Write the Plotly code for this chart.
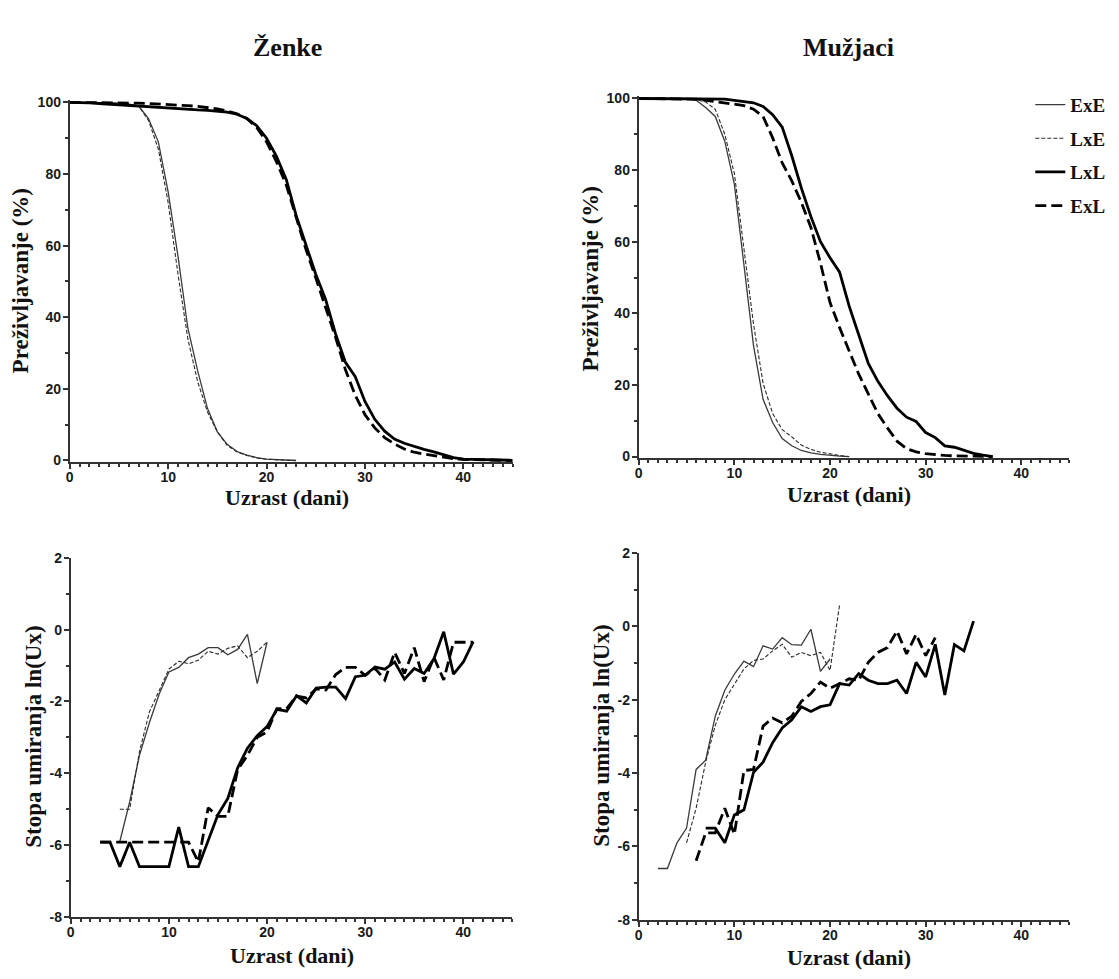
import plotly.graph_objects as go

# ---------------- DATA ----------------
groups = ["ExE", "LxE", "LxL", "ExL"]

# Survival (%) - females
f_surv_days_thin = list(range(0, 24))
f_surv_ExE = [100, 100, 100, 100, 100, 99.8, 99.5, 99, 95.5, 89, 75, 57, 37, 25, 14.5, 8, 4.5, 2.5, 1.5, 0.8, 0.4, 0.2, 0.1, 0]
f_surv_LxE = [100, 100, 100, 100, 100, 99.8, 99.5, 99, 95, 87, 72, 52, 34, 22, 13.5, 8, 4.2, 2.4, 1.4, 0.7, 0.35, 0.15, 0.05, 0]
f_surv_days_thick = list(range(0, 46))
f_surv_LxL = [100, 100, 99.9, 99.7, 99.5, 99.3, 99.1, 99, 98.8, 98.6, 98.4, 98.2, 98, 97.9, 97.8, 97.6,
              97.3, 96.7, 95.5, 93.5, 90, 85, 78.5, 68.5, 60, 52, 45, 35.5, 27.5, 23.5, 16.5, 11.5,
              8.2, 6, 4.8, 3.9, 3.1, 2.4, 1.6, 0.8, 0.4, 0.3, 0.2, 0.1, 0.1, 0.05]
f_surv_ExL = [100, 100, 100, 100, 99.9, 99.9, 99.8, 99.8, 99.7, 99.6, 99.5, 99.3, 99.1, 98.9, 98.6, 98.2,
              97.6, 96.8, 95.5, 93, 89, 83.5, 77, 68, 59, 51, 43, 34.5, 25.5, 18.3, 12.8, 9.1,
              6.4, 4.6, 3.2, 2.3, 1.8, 1.3, 1.0, 0.5, 0.3, 0.2, 0.1, 0.1, 0.05, 0]

# Survival (%) - males
m_surv_days_thin = list(range(0, 23))
m_surv_ExE = [100, 100, 100, 100, 100, 100, 99.5, 97.5, 95, 88, 76, 53, 31, 16, 9.5, 5, 3, 1.7, 1.0, 0.6, 0.3, 0.1, 0]
m_surv_LxE = [100, 100, 100, 100, 100, 100, 99.7, 99, 97, 90, 79, 58, 37, 20.5, 12, 7.5, 5.5, 3.2, 2, 1.2, 0.7, 0.3, 0]
m_surv_days_thick = list(range(0, 38))
m_surv_LxL = [100, 100, 100, 100, 100, 100, 100, 100, 100, 99.8, 99.5, 99.2, 98.8, 97.8, 95.5, 92,
              84, 75, 67, 60, 55.5, 51.5, 42, 34, 26, 21, 17, 13.5, 11, 9.8, 6.7, 5.3, 3, 2.6, 1.8, 0.9, 0.4, 0]
m_surv_ExL = [100, 100, 100, 100, 100, 100, 99.8, 99.5, 99.2, 98.8, 98.4, 98, 97, 95, 89, 82,
              77, 71, 64, 54, 43, 36, 29.5, 23, 17.5, 12, 8, 4.3, 2.2, 1.3, 0.8, 0.5, 0.3, 0.2, 0.1, 0.05, 0, 0]

# Mortality rate ln(Ux) - females
f_mort_ExE_days = list(range(5, 21))
f_mort_ExE = [-5.9, -4.8, -3.5, -2.6, -1.8, -1.18, -1.05, -0.78, -0.68, -0.5, -0.5, -0.7, -0.55, -0.13, -1.5, -0.35]
f_mort_LxE_days = list(range(5, 21))
f_mort_LxE = [-5.0, -5.0, -3.4, -2.3, -1.7, -1.1, -0.88, -0.95, -0.85, -0.6, -0.68, -0.52, -0.45, -0.78, -0.6, -0.35]
f_mort_LxL_days = list(range(3, 42))
f_mort_LxL = [-5.92, -5.92, -6.6, -5.92, -6.6, -6.6, -6.6, -6.6, -5.5, -6.6, -6.6, -5.85, -5.15, -4.7,
              -3.85, -3.3, -2.95, -2.7, -2.22, -2.27, -1.84, -2.04, -1.63, -1.6, -1.6, -1.92, -1.31,
              -1.27, -1.04, -1.1, -0.9, -1.38, -1.08, -1.22, -0.81, -0.06, -1.24, -0.9, -0.33]
f_mort_ExL_days = list(range(3, 42))
f_mort_ExL = [-5.92, -5.92, -5.92, -5.92, -5.92, -5.92, -5.92, -5.92, -5.92, -5.92, -6.47, -4.96, -5.2,
              -5.2, -3.9, -3.5, -3.0, -2.85, -2.2, -2.2, -1.85, -1.9, -1.65, -1.68, -1.25, -1.05, -1.05,
              -1.27, -1.08, -1.4, -0.63, -1.22, -0.5, -1.45, -0.77, -1.4, -0.35, -0.35, -0.35]

# Mortality rate ln(Ux) - males
m_mort_ExE_days = list(range(2, 21))
m_mort_ExE = [-6.6, -6.6, -5.9, -5.5, -3.9, -3.65, -2.45, -1.74, -1.3, -0.95, -1.1, -0.53, -0.62, -0.31,
              -0.5, -0.51, -0.08, -1.23, -0.89]
m_mort_LxE_days = list(range(5, 22))
m_mort_LxE = [-5.9, -4.96, -3.7, -2.7, -2.0, -1.56, -1.16, -0.93, -0.89, -0.67, -0.49, -0.84, -0.71,
              -0.8, -0.71, -1.2, 0.59]
m_mort_LxL_days = list(range(7, 36))
m_mort_LxL = [-5.5, -5.5, -5.9, -5.14, -5.0, -3.98, -3.7, -3.17, -2.77, -2.55, -2.19, -2.32, -2.19,
              -2.14, -1.56, -1.6, -1.29, -1.47, -1.56, -1.56, -1.47, -1.83, -0.98, -1.38, -0.49, -1.87,
              -0.5, -0.67, 0.14]
m_mort_ExL_days = list(range(6, 32))
m_mort_ExL = [-6.39, -5.63, -5.63, -4.96, -5.67, -3.93, -3.9, -2.72, -2.5, -2.63, -2.45, -2.05, -1.83,
              -1.52, -1.69, -1.56, -1.43, -1.47, -0.98, -0.71, -0.58, -0.13, -0.75, -0.22, -0.8, -0.31]

panel_titles = ["Ženke", "Mužjaci"]
x_title = "Uzrast (dani)"
y_title_top = "Preživljavanje (%)"
y_title_bottom = "Stopa umiranja ln(Ux)"
x_ticks = [0, 10, 20, 30, 40]
y_ticks_top = [0, 20, 40, 60, 80, 100]
y_ticks_bot = [-8, -6, -4, -2, 0, 2]

# ---------------- STYLE ----------------
W, H = 1119, 979
styles = {
    "ExE": dict(color="#3a3a3a", width=1.3, dash="solid"),
    "LxE": dict(color="#2a2a2a", width=1.1, dash="4px,2px"),
    "LxL": dict(color="#000000", width=2.8, dash="solid"),
    "ExL": dict(color="#000000", width=2.8, dash="11px,5px"),
}
SERIF = "Liberation Serif"
SANS = "Liberation Sans"


def dom_x(px0, px1, v0, v1, r0, r1):
    s = (px1 - px0) / (v1 - v0)
    return [(px0 + (r0 - v0) * s) / W, (px0 + (r1 - v0) * s) / W]


def dom_y(py0, py1, v0, v1, r0, r1):
    s = (py0 - py1) / (v1 - v0)
    return [1 - (py0 - (r0 - v0) * s) / H, 1 - (py0 - (r1 - v0) * s) / H]


XR = [0, 45]
YR_TOP = [-0.4, 100.8]
YR_BOT = [-8, 2]

fig = go.Figure()

panels = [
    ("", {"ExE": (f_surv_days_thin, f_surv_ExE), "LxE": (f_surv_days_thin, f_surv_LxE),
          "LxL": (f_surv_days_thick, f_surv_LxL), "ExL": (f_surv_days_thick, f_surv_ExL)}, False),
    ("2", {"ExE": (m_surv_days_thin, m_surv_ExE), "LxE": (m_surv_days_thin, m_surv_LxE),
           "LxL": (m_surv_days_thick, m_surv_LxL), "ExL": (m_surv_days_thick, m_surv_ExL)}, True),
    ("3", {"ExE": (f_mort_ExE_days, f_mort_ExE), "LxE": (f_mort_LxE_days, f_mort_LxE),
           "LxL": (f_mort_LxL_days, f_mort_LxL), "ExL": (f_mort_ExL_days, f_mort_ExL)}, False),
    ("4", {"ExE": (m_mort_ExE_days, m_mort_ExE), "LxE": (m_mort_LxE_days, m_mort_LxE),
           "LxL": (m_mort_LxL_days, m_mort_LxL), "ExL": (m_mort_ExL_days, m_mort_ExL)}, False),
]

for suf, series, showleg in panels:
    for g in groups:
        xs, ys = series[g]
        st = styles[g]
        fig.add_trace(go.Scatter(
            x=xs, y=ys, mode="lines", name=g, showlegend=showleg, legendgroup=g,
            line=dict(color=st["color"], width=st["width"], dash=st["dash"]),
            xaxis="x" + suf, yaxis="y" + suf, hoverinfo="skip"))

axis_common = dict(
    showline=True, linewidth=2, linecolor="#333333", mirror=False,
    ticks="outside", ticklen=5, tickwidth=2, tickcolor="#333333",
    showgrid=False, zeroline=False,
    tickfont=dict(family=SANS, size=14, color="#1a1a1a"),
)
minor_x = dict(dtick=1, ticklen=3, tickwidth=1.5, ticks="outside", tickcolor="#333333")
minor_top = dict(tickvals=[10, 30, 50, 70, 90], ticklen=3, tickwidth=1.5, ticks="outside", tickcolor="#333333")
minor_bot = dict(tickvals=[-7, -5, -3, -1, 1], ticklen=3, tickwidth=1.5, ticks="outside", tickcolor="#333333")


def bold(vals):
    return ["<b>%d</b>" % v for v in vals]


xt = dict(tickvals=x_ticks, ticktext=bold(x_ticks), minor=minor_x, ticklabelstandoff=-4)
yt_top = dict(tickvals=y_ticks_top, ticktext=bold(y_ticks_top), minor=minor_top, ticklabelstandoff=-1)
yt_bot = dict(tickvals=y_ticks_bot, ticktext=bold(y_ticks_bot), minor=minor_bot, ticklabelstandoff=-1)

layout_axes = {
    "xaxis": dict(axis_common, **xt, range=XR, domain=dom_x(66, 461, 0, 40, *XR), anchor="y"),
    "yaxis": dict(axis_common, **yt_top, range=YR_TOP, domain=dom_y(460, 96, 0, 100, *YR_TOP), anchor="x"),
    "xaxis2": dict(axis_common, **xt, range=XR, domain=dom_x(637, 1021, 0, 40, *XR), anchor="y2"),
    "yaxis2": dict(axis_common, **yt_top, range=YR_TOP, domain=dom_y(456, 92, 0, 100, *YR_TOP), anchor="x2"),
    "xaxis3": dict(axis_common, **xt, range=XR, domain=dom_x(67, 461, 0, 40, *XR), anchor="y3"),
    "yaxis3": dict(axis_common, **yt_bot, range=YR_BOT, domain=dom_y(924, 559, -8, 2, *YR_BOT), anchor="x3"),
    "xaxis4": dict(axis_common, **xt, range=XR, domain=dom_x(637, 1021, 0, 40, *XR), anchor="y4"),
    "yaxis4": dict(axis_common, **yt_bot, range=YR_BOT, domain=dom_y(927, 554, -8, 2, *YR_BOT), anchor="x4"),
}


def ann(text, px, py, size, angle=0):
    return dict(text="<b>" + text + "</b>", x=px / W, y=1 - py / H, xref="paper", yref="paper",
                xanchor="center", yanchor="middle", showarrow=False, textangle=angle,
                font=dict(family=SERIF, size=size, color="#111111"))


annotations = [
    ann(panel_titles[0], 285, 40, 26),
    ann(panel_titles[1], 848, 40, 26),
    ann(x_title, 284, 498, 22),
    ann(x_title, 848, 495, 22),
    ann(x_title, 289, 963, 22),
    ann(x_title, 848, 965, 22),
    ann(y_title_top, 17, 277, 23, -90),
    ann(y_title_top, 589, 275, 23, -90),
    ann(y_title_bottom, 30, 741, 23, -90),
    ann(y_title_bottom, 600, 740, 23, -90),
]

fig.update_layout(
    width=W, height=H,
    margin=dict(l=0, r=0, t=0, b=0),
    paper_bgcolor="white", plot_bgcolor="white",
    showlegend=True,
    legend=dict(x=1030 / W, y=1 - 79 / H, xanchor="left", yanchor="top",
                bgcolor="rgba(0,0,0,0)", itemwidth=30,
                font=dict(family=SERIF, size=19, color="#111111", weight="bold"),
                tracegroupgap=6),
    annotations=annotations,
    **layout_axes,
)

fig.write_html("out.html", config={"displayModeBar": False},
               post_script="document.body.style.margin='0';document.body.style.overflow='hidden';")
